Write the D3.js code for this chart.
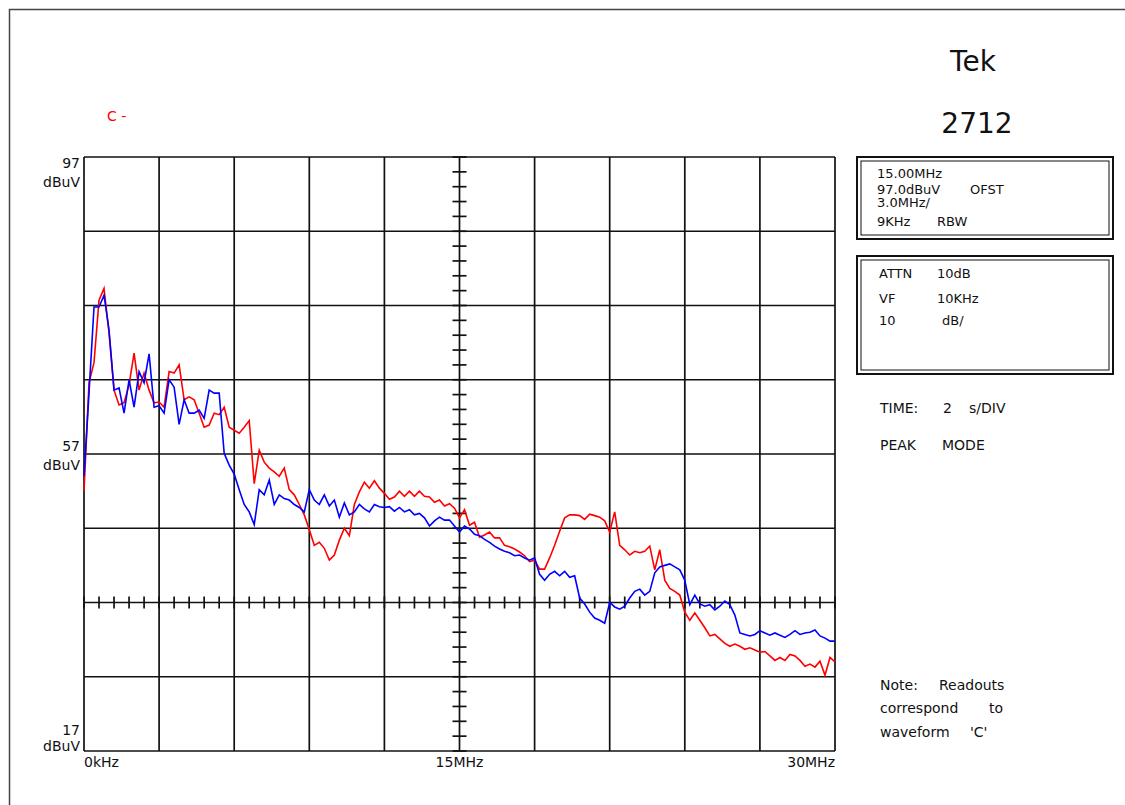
<!DOCTYPE html>
<head>
	<script src="https://d3js.org/d3.v7.min.js"></script>
	<style>
		body { margin: 0; background: #fff; }
		svg text { font-family: "DejaVu Sans", sans-serif; fill: #111; }
	</style>
</head>
<body>
	<script type="text/javascript">
		// readings from the screen, one value every 0.2 MHz from 0 to 30 MHz
		var freqStep = 0.2;
		var traceRed = [52.0, 66.6, 69.3, 77.7, 79.3, 73.3, 65.6, 63.6, 63.9, 66.3,
			70.6, 65.6, 67.9, 65.6, 63.9, 64.0, 63.3, 68.1, 67.9, 69.0,
			64.3, 64.7, 64.3, 62.5, 60.6, 60.9, 62.5, 62.3, 63.3, 60.6,
			60.2, 59.8, 60.6, 61.5, 53.0, 57.5, 55.9, 55.1, 54.6, 54.0,
			55.1, 52.2, 51.5, 50.2, 48.8, 46.8, 44.7, 45.1, 44.3, 42.7,
			43.4, 45.4, 47.0, 46.0, 50.2, 51.9, 53.2, 52.4, 53.4, 52.4,
			51.7, 50.9, 51.2, 52.0, 51.3, 52.0, 51.3, 52.0, 51.3, 51.2,
			50.5, 50.8, 50.0, 50.3, 49.7, 48.4, 49.5, 47.4, 47.8, 45.8,
			46.1, 46.5, 45.7, 45.7, 44.7, 44.5, 44.2, 43.8, 43.3, 42.5,
			42.7, 41.5, 41.5, 43.0, 44.7, 46.6, 48.4, 48.8, 48.8, 48.7,
			48.2, 48.9, 48.7, 48.5, 48.0, 46.5, 49.2, 44.7, 44.1, 43.4,
			43.9, 43.7, 43.9, 44.6, 41.4, 44.1, 40.0, 38.9, 38.5, 38.0,
			35.7, 34.6, 35.6, 34.6, 33.6, 32.5, 32.7, 32.1, 31.5, 31.1,
			31.4, 31.1, 30.7, 30.9, 30.6, 30.3, 30.4, 29.8, 29.2, 29.6,
			29.2, 30.0, 29.8, 29.2, 28.4, 28.7, 28.3, 29.1, 27.2, 29.6,
			29.0];
		var traceBlue = [54.0, 65.2, 76.8, 76.8, 78.4, 73.7, 65.6, 65.9, 62.5, 67.0,
			63.3, 68.1, 66.6, 70.5, 63.3, 63.5, 62.5, 67.0, 66.0, 61.0,
			64.3, 62.5, 62.5, 62.9, 61.8, 65.6, 65.2, 65.2, 57.1, 55.5,
			54.3, 52.2, 50.2, 49.2, 47.5, 52.2, 51.5, 53.5, 50.2, 51.5,
			51.0, 50.8, 50.2, 49.8, 49.2, 52.2, 50.8, 50.2, 51.5, 50.0,
			50.8, 48.5, 50.4, 48.8, 49.2, 50.2, 49.6, 49.2, 50.2, 49.9,
			49.8, 49.9, 49.3, 49.8, 49.2, 49.5, 48.8, 49.0, 48.4, 47.3,
			48.0, 48.5, 48.1, 48.1, 47.3, 46.5, 47.3, 46.9, 46.2, 46.0,
			45.5, 45.1, 44.6, 44.2, 43.9, 43.7, 43.3, 43.4, 43.0, 42.7,
			43.0, 40.8, 40.0, 40.8, 41.2, 40.6, 41.2, 40.4, 40.6, 37.6,
			36.8, 35.7, 34.9, 34.6, 34.2, 37.0, 36.4, 36.1, 36.5, 37.6,
			38.5, 38.8, 38.0, 38.5, 41.0, 41.8, 42.0, 42.2, 41.8, 41.4,
			40.0, 36.7, 38.0, 36.8, 36.5, 36.7, 36.0, 36.5, 37.2, 36.7,
			35.3, 32.9, 32.7, 32.5, 32.7, 33.2, 32.9, 32.6, 32.9, 32.6,
			32.3, 32.7, 33.2, 32.7, 32.9, 33.0, 33.3, 32.5, 32.2, 31.8,
			31.8];

		var xGridMHz = [0, 3, 6, 9, 12, 15, 18, 21, 24, 27, 30];
		var yGridDb = [17, 27, 37, 47, 57, 67, 77, 87, 97];
		var yLabels = ["97", "57", "17"];
		var xLabels = ["0kHz", "15MHz", "30MHz"];
		var readoutTop = [["15.00MHz", ""], ["97.0dBuV", "OFST"], ["3.0MHz/", ""], ["9KHz", "RBW"]];
		var readoutMid = [["ATTN", "10dB"], ["VF", "10KHz"], ["10", "dB/"]];
		var sideNotes = [["TIME:", "2", "s/DIV"], ["PEAK", "MODE"]];
		var footNote = [["Note:", "Readouts"], ["correspond", "to"], ["waveform", "'C'"]];

		var w = 1125, h = 805;
		var svg = d3.select("body").append("svg").attr("width", w).attr("height", h);

		// outer frame (top and left edges only)
		svg.append("path")
			.attr("d", "M9.5,805 L9.5,9.5 L1125,9.5")
			.attr("fill", "none").attr("stroke", "#444").attr("stroke-width", 1.5);

		var x = d3.scaleLinear().domain([0, 30]).range([84, 835]);
		var y = d3.scaleLinear().domain([17, 97]).range([751, 157]);

		var grid = svg.append("g").attr("stroke", "#111").attr("stroke-width", 1.7);
		grid.selectAll(".vx").data(xGridMHz).enter().append("line")
			.attr("x1", function(d){ return x(d); }).attr("x2", function(d){ return x(d); })
			.attr("y1", y(17)).attr("y2", y(97));
		grid.selectAll(".hy").data(yGridDb).enter().append("line")
			.attr("x1", x(0)).attr("x2", x(30))
			.attr("y1", function(d){ return y(d); }).attr("y2", function(d){ return y(d); });

		// graticule minor ticks on the 37 dB line and the 15 MHz line
		grid.selectAll(".tx").data(d3.range(0, 30.001, 0.6)).enter().append("line")
			.attr("x1", function(d){ return x(d); }).attr("x2", function(d){ return x(d); })
			.attr("y1", y(37) - 6).attr("y2", y(37) + 6);
		grid.selectAll(".ty").data(d3.range(17, 97.001, 2)).enter().append("line")
			.attr("x1", x(15) - 7).attr("x2", x(15) + 7)
			.attr("y1", function(d){ return y(d); }).attr("y2", function(d){ return y(d); });

		var line = d3.line()
			.x(function(d, i){ return x(i * freqStep); })
			.y(function(d){ return y(d); });

		svg.append("path").datum(traceRed)
			.attr("d", line).attr("fill", "none")
			.attr("stroke", "#ff0000").attr("stroke-width", 1.6);
		svg.append("path").datum(traceBlue)
			.attr("d", line).attr("fill", "none")
			.attr("stroke", "#0000ff").attr("stroke-width", 1.6);

		// y labels
		var yOff = [[11, 30], [-3, 16], [-16, 0]];
		yLabels.forEach(function(lab, i){
			var yy = y(+lab);
			svg.append("text").attr("x", 80).attr("y", yy + yOff[i][0])
				.attr("text-anchor", "end").attr("font-size", 14).text(lab);
			svg.append("text").attr("x", 80).attr("y", yy + yOff[i][1])
				.attr("text-anchor", "end").attr("font-size", 14).text("dBuV");
		});

		// x labels
		var xAnchor = ["start", "middle", "end"];
		var xVals = [0, 15, 30];
		xLabels.forEach(function(lab, i){
			svg.append("text").attr("x", x(xVals[i])).attr("y", 767)
				.attr("text-anchor", xAnchor[i]).attr("font-size", 14).text(lab);
		});

		svg.append("text").attr("x", 107).attr("y", 121)
			.attr("font-size", 14).style("fill", "#ff0000").text("C -");

		svg.append("text").attr("x", 973).attr("y", 71).attr("text-anchor", "middle")
			.attr("font-size", 28).text("Tek");
		svg.append("text").attr("x", 977).attr("y", 133).attr("text-anchor", "middle")
			.attr("font-size", 28).text("2712");

		// readout boxes
		function box(y0, y1){
			svg.append("rect").attr("x", 857).attr("y", y0).attr("width", 256).attr("height", y1 - y0)
				.attr("fill", "none").attr("stroke", "#111").attr("stroke-width", 2);
			svg.append("rect").attr("x", 861).attr("y", y0 + 4).attr("width", 248).attr("height", y1 - y0 - 8)
				.attr("fill", "none").attr("stroke", "#111").attr("stroke-width", 1);
		}
		box(157, 239);
		box(256, 374);

		var topY = [178, 194, 207, 226];
		var topX2 = [0, 970, 0, 937];
		readoutTop.forEach(function(r, i){
			svg.append("text").attr("x", 877).attr("y", topY[i]).attr("font-size", 13).text(r[0]);
			if (r[1]) svg.append("text").attr("x", topX2[i]).attr("y", topY[i]).attr("font-size", 13).text(r[1]);
		});
		var midY = [278, 303, 325];
		var midX2 = [937, 937, 942];
		readoutMid.forEach(function(r, i){
			svg.append("text").attr("x", 879).attr("y", midY[i]).attr("font-size", 13).text(r[0]);
			svg.append("text").attr("x", midX2[i]).attr("y", midY[i]).attr("font-size", 13).text(r[1]);
		});

		var sideY = [413, 450];
		var sideX = [[880, 943, 969], [880, 942]];
		sideNotes.forEach(function(r, i){
			r.forEach(function(t, j){
				svg.append("text").attr("x", sideX[i][j]).attr("y", sideY[i]).attr("font-size", 14).text(t);
			});
		});
		var noteY = [690, 713, 737];
		var noteX = [[880, 939], [880, 989], [880, 970]];
		footNote.forEach(function(r, i){
			r.forEach(function(t, j){
				svg.append("text").attr("x", noteX[i][j]).attr("y", noteY[i]).attr("font-size", 14).text(t);
			});
		});
	</script>
</body>
